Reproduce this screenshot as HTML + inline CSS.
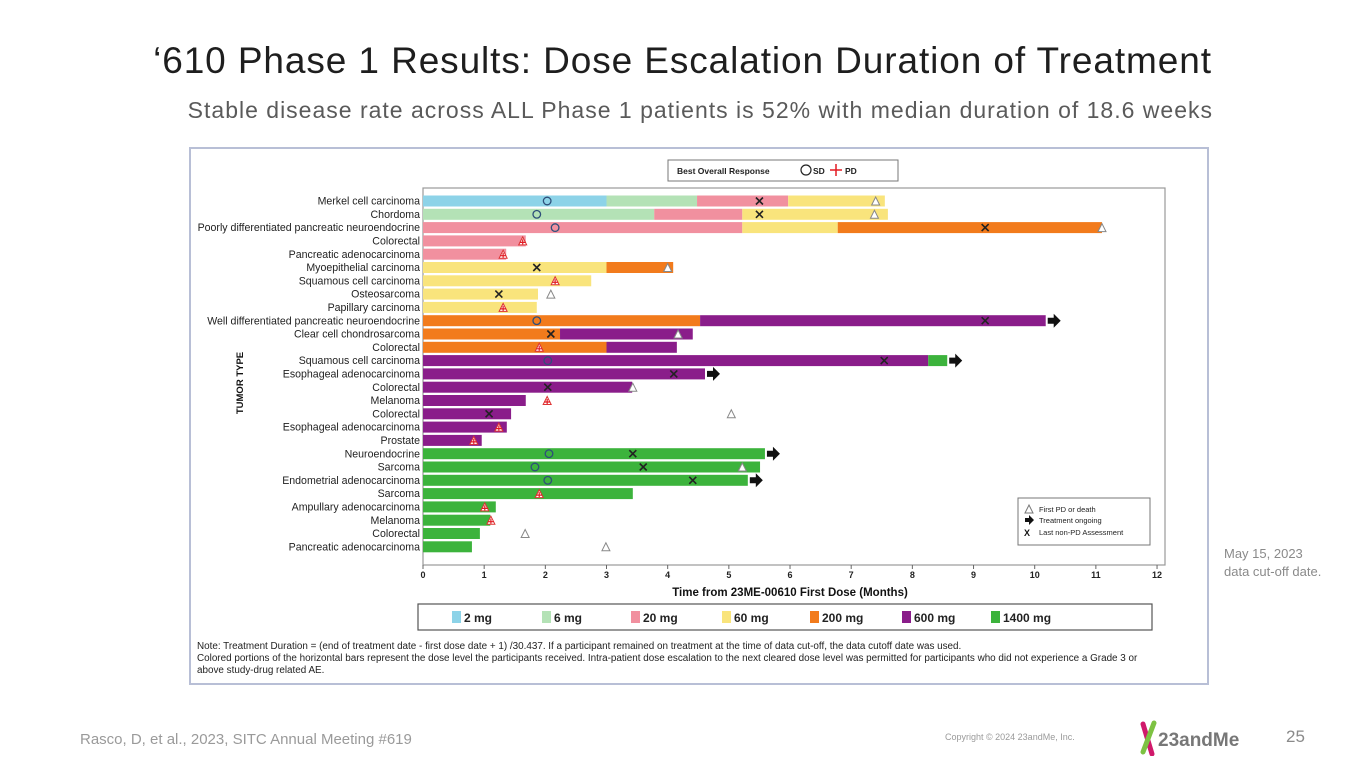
<!DOCTYPE html>
<html><head><meta charset="utf-8">
<style>
body{margin:0;width:1365px;height:768px;background:#fff;overflow:hidden;font-family:"Liberation Sans",sans-serif;position:relative}
.t{position:absolute}
</style></head><body>
<div class="t" style="left:140px;top:40px;width:1085px;text-align:center;font-size:37px;color:#1e1e1e;letter-spacing:0.9px;white-space:nowrap">‘610 Phase 1 Results: Dose Escalation Duration of Treatment</div>
<div class="t" style="left:140px;top:97px;width:1073px;text-align:right;font-size:23px;color:#5a5a5a;letter-spacing:1px;white-space:nowrap">Stable disease rate across ALL Phase 1 patients is 52% with median duration of 18.6 weeks</div>
<div class="t" style="left:1224px;top:545px;font-size:13px;color:#8a8a8a;line-height:18px">May 15, 2023<br>data cut-off date.</div>
<div class="t" style="left:80px;top:731px;font-size:15px;color:#9a9a9a">Rasco, D, et al., 2023, SITC Annual Meeting #619</div>
<div class="t" style="left:945px;top:732px;font-size:9px;color:#9a9a9a">Copyright © 2024 23andMe, Inc.</div>
<div class="t" style="left:1138px;top:720px;width:110px;height:36px">
<svg width="110" height="36"><line x1="5" y1="4" x2="14" y2="34" stroke="#d0196b" stroke-width="5" stroke-linecap="round"/><line x1="16" y1="3" x2="5" y2="32" stroke="#7dc242" stroke-width="5" stroke-linecap="round"/><text x="20" y="26" font-size="19" font-weight="bold" fill="#777" font-family="Liberation Sans,sans-serif">23andMe</text></svg></div>
<div class="t" style="left:1286px;top:727px;font-size:17px;color:#8a8a8a">25</div>

<svg id="chart" style="position:absolute;left:0;top:0" width="1365" height="768" font-family="Liberation Sans,sans-serif">
<rect x="190" y="148" width="1018" height="536" fill="#fff" stroke="#b8bfd6" stroke-width="2"/>
<rect x="423" y="188" width="742" height="377" fill="none" stroke="#999" stroke-width="1.2"/>
<g id="bars"></g><g id="marks"></g><g id="axis"></g>
<text x="243" y="383" transform="rotate(-90 243 383)" text-anchor="middle" font-size="9.5" font-weight="bold" fill="#111">TUMOR TYPE</text>
<text x="790" y="596" text-anchor="middle" font-size="11.5" font-weight="bold" fill="#111">Time from 23ME-00610 First Dose (Months)</text>
<g>
<rect x="668" y="160" width="230" height="21" fill="#fff" stroke="#777"/>
<text x="677" y="174" font-size="8.5" font-weight="bold" fill="#222">Best Overall Response</text>
<circle cx="806" cy="170" r="5" fill="none" stroke="#222" stroke-width="1.2"/>
<text x="813" y="174" font-size="8.5" font-weight="bold" fill="#222">SD</text>
<line x1="830" y1="170" x2="842" y2="170" stroke="#e21b23" stroke-width="1.5"/><line x1="836" y1="164" x2="836" y2="176" stroke="#e21b23" stroke-width="1.5"/>
<text x="845" y="174" font-size="8.5" font-weight="bold" fill="#222">PD</text>
</g>
<g>
<rect x="1018" y="498" width="132" height="47" fill="#fff" stroke="#777"/>
<path d="M1025,513 L1029,505 L1033,513Z" fill="#fff" stroke="#777"/>
<text x="1039" y="512" font-size="7.5" fill="#222">First PD or death</text>
<path d="M1025,518 h4 v-3 l5,5 l-5,5 v-3 h-4z" fill="#111"/>
<text x="1039" y="523" font-size="7.5" fill="#222">Treatment ongoing</text>
<text x="1024" y="536" font-size="9" font-weight="bold" fill="#111">X</text>
<text x="1039" y="535" font-size="7.5" fill="#222">Last non-PD Assessment</text>
</g>
<g id="doseLegend">
<rect x="418" y="604" width="734" height="26" fill="#fff" stroke="#555" stroke-width="1.2"/>
</g>
<text x="197" y="649" font-size="9.9" fill="#222">Note: Treatment Duration = (end of treatment date - first dose date + 1) /30.437. If a participant remained on treatment at the time of data cut-off, the data cutoff date was used.</text>
<text x="197" y="661" font-size="9.9" fill="#222">Colored portions of the horizontal bars represent the dose level the participants received. Intra-patient dose escalation to the next cleared dose level was permitted for participants who did not experience a Grade 3 or</text>
<text x="197" y="673" font-size="9.9" fill="#222">above study-drug related AE.</text>
</svg>

<script>
const rowLabels=["Merkel cell carcinoma","Chordoma","Poorly differentiated pancreatic neuroendocrine","Colorectal","Pancreatic adenocarcinoma","Myoepithelial carcinoma","Squamous cell carcinoma","Osteosarcoma","Papillary carcinoma","Well differentiated pancreatic neuroendocrine","Clear cell chondrosarcoma","Colorectal","Squamous cell carcinoma","Esophageal adenocarcinoma","Colorectal","Melanoma","Colorectal","Esophageal adenocarcinoma","Prostate","Neuroendocrine","Sarcoma","Endometrial adenocarcinoma","Sarcoma","Ampullary adenocarcinoma","Melanoma","Colorectal","Pancreatic adenocarcinoma"];
const doseNames=["2 mg","6 mg","20 mg","60 mg","200 mg","600 mg","1400 mg"];
const doseColors=["#8dd3e8","#b4e2b6","#f1909f","#f9e47c","#f27b1c","#8a1d8a","#3cb33c"];
const segDoses=[[0,1,2,3],[1,2,3],[2,3,4],[2],[2],[3,4],[3],[3],[3],[4,5],[4,5],[4,5],[5,6],[5],[5],[5],[5],[5],[5],[6],[6],[6],[6],[6],[6],[6],[6]];
const segEnds=[[3.0,4.48,5.97,7.55],[3.78,5.22,7.6],[5.22,6.78,11.1],[1.68],[1.36],[3.0,4.09],[2.75],[1.88],[1.86],[4.53,10.18],[2.24,4.41],[3.0,4.15],[8.26,8.57],[4.61],[3.42],[1.68],[1.44],[1.37],[0.96],[5.59],[5.51],[5.31],[3.43],[1.19],[1.1],[0.93],[0.8]];
const ongoing=[0,0,0,0,0,0,0,0,0,1,0,0,1,1,0,0,0,0,0,1,0,1,0,0,0,0,0];
const sdAt=[2.03,1.86,2.16,null,null,null,null,null,null,1.86,null,null,2.04,null,null,null,null,null,null,2.06,1.83,2.04,null,null,null,null,null];
const pdAt=[null,null,null,1.63,1.31,null,2.16,null,1.31,null,null,1.9,null,null,null,2.03,null,1.24,0.83,null,null,null,1.9,1.01,1.11,null,null];
const xAt=[5.5,5.5,9.19,null,null,1.86,null,1.24,null,9.19,2.09,null,7.54,4.1,2.04,null,1.08,null,null,3.43,3.6,4.41,null,null,null,null,null];
const triAt=[7.4,7.38,11.1,null,null,4.0,null,2.09,null,null,4.17,null,null,null,3.43,null,5.04,null,null,null,5.22,null,null,null,null,1.67,2.99];
const xTicks=[0,1,2,3,4,5,6,7,8,9,10,11,12];

const NS="http://www.w3.org/2000/svg";
const X0=423,PX=61.17,Y0=201,DY=13.3,BH=11;
const xs=m=>X0+m*PX, ys=i=>Y0+i*DY;
function mk(tag,attrs,parent){const e=document.createElementNS(NS,tag);for(const k in attrs)e.setAttribute(k,attrs[k]);parent.appendChild(e);return e;}
const bars=document.getElementById('bars'),marks=document.getElementById('marks'),axis=document.getElementById('axis'),dl=document.getElementById('doseLegend');

rowLabels.forEach((lab,i)=>{
  const t=mk('text',{x:420,y:ys(i)+3.6,'text-anchor':'end','font-size':10.6,fill:'#222'},axis);
  t.textContent=lab;
  
  
  let start=0;
  segDoses[i].forEach((d,j)=>{
    const e=segEnds[i][j];
    const r=mk('rect',{x:xs(start),y:ys(i)-BH/2,width:xs(e)-xs(start),height:BH,fill:doseColors[d]},bars);
    
    
    start=e;
  });
  if(ongoing[i]){
    const ax=xs(start)+2,yy=ys(i);
    const a=mk('path',{d:`M${ax},${yy-3} h6 v-4 l7,7 l-7,7 v-4 h-6z`,fill:'#111'},marks);
    
    
  }
  if(sdAt[i]!=null){
    const c=mk('circle',{cx:xs(sdAt[i]),cy:ys(i),r:3.8,fill:'none',stroke:'#2e4f7a','stroke-width':1.3},marks);
    
    
  }
  if(triAt[i]!=null){
    const tx=xs(triAt[i]),ty=ys(i);
    const p=mk('path',{d:`M${tx-4},${ty+4} L${tx},${ty-4} L${tx+4},${ty+4}Z`,fill:'#fff',stroke:'#888','stroke-width':1},marks);
    
    
  }
  if(pdAt[i]!=null){
    const tx=xs(pdAt[i]),ty=ys(i);
    const p=mk('path',{d:`M${tx-4},${ty+4} L${tx},${ty-4} L${tx+4},${ty+4}Z`,fill:'#fff',stroke:'#d33','stroke-width':1},marks);
    
    
    mk('path',{d:`M${tx-3},${ty+1.5} h6 M${tx},${ty-1.5} v5`,stroke:'#e21b23','stroke-width':1.2},marks);
  }
  if(xAt[i]!=null){
    const tx=xs(xAt[i]),ty=ys(i);
    const p=mk('path',{d:`M${tx-3.5},${ty-3.5} L${tx+3.5},${ty+3.5} M${tx+3.5},${ty-3.5} L${tx-3.5},${ty+3.5}`,stroke:'#222','stroke-width':1.6},marks);
    
    
  }
});
xTicks.forEach(v=>{
  mk('line',{x1:xs(v),x2:xs(v),y1:565,y2:569,stroke:'#666'},axis);
  const t=mk('text',{x:xs(v),y:578,'text-anchor':'middle','font-size':9,'font-weight':'bold',fill:'#222'},axis);
  t.textContent=v;
  
  
});
const legX=[452,542,631,722,810,902,991];
doseNames.forEach((n,i)=>{
  mk('rect',{x:legX[i],y:611,width:9,height:12,fill:doseColors[i]},dl);
  const t=mk('text',{x:legX[i]+12,y:622,'font-size':12,'font-weight':'bold',fill:'#222'},dl);
  t.textContent=n;
  
  
});
</script>
</body></html>
